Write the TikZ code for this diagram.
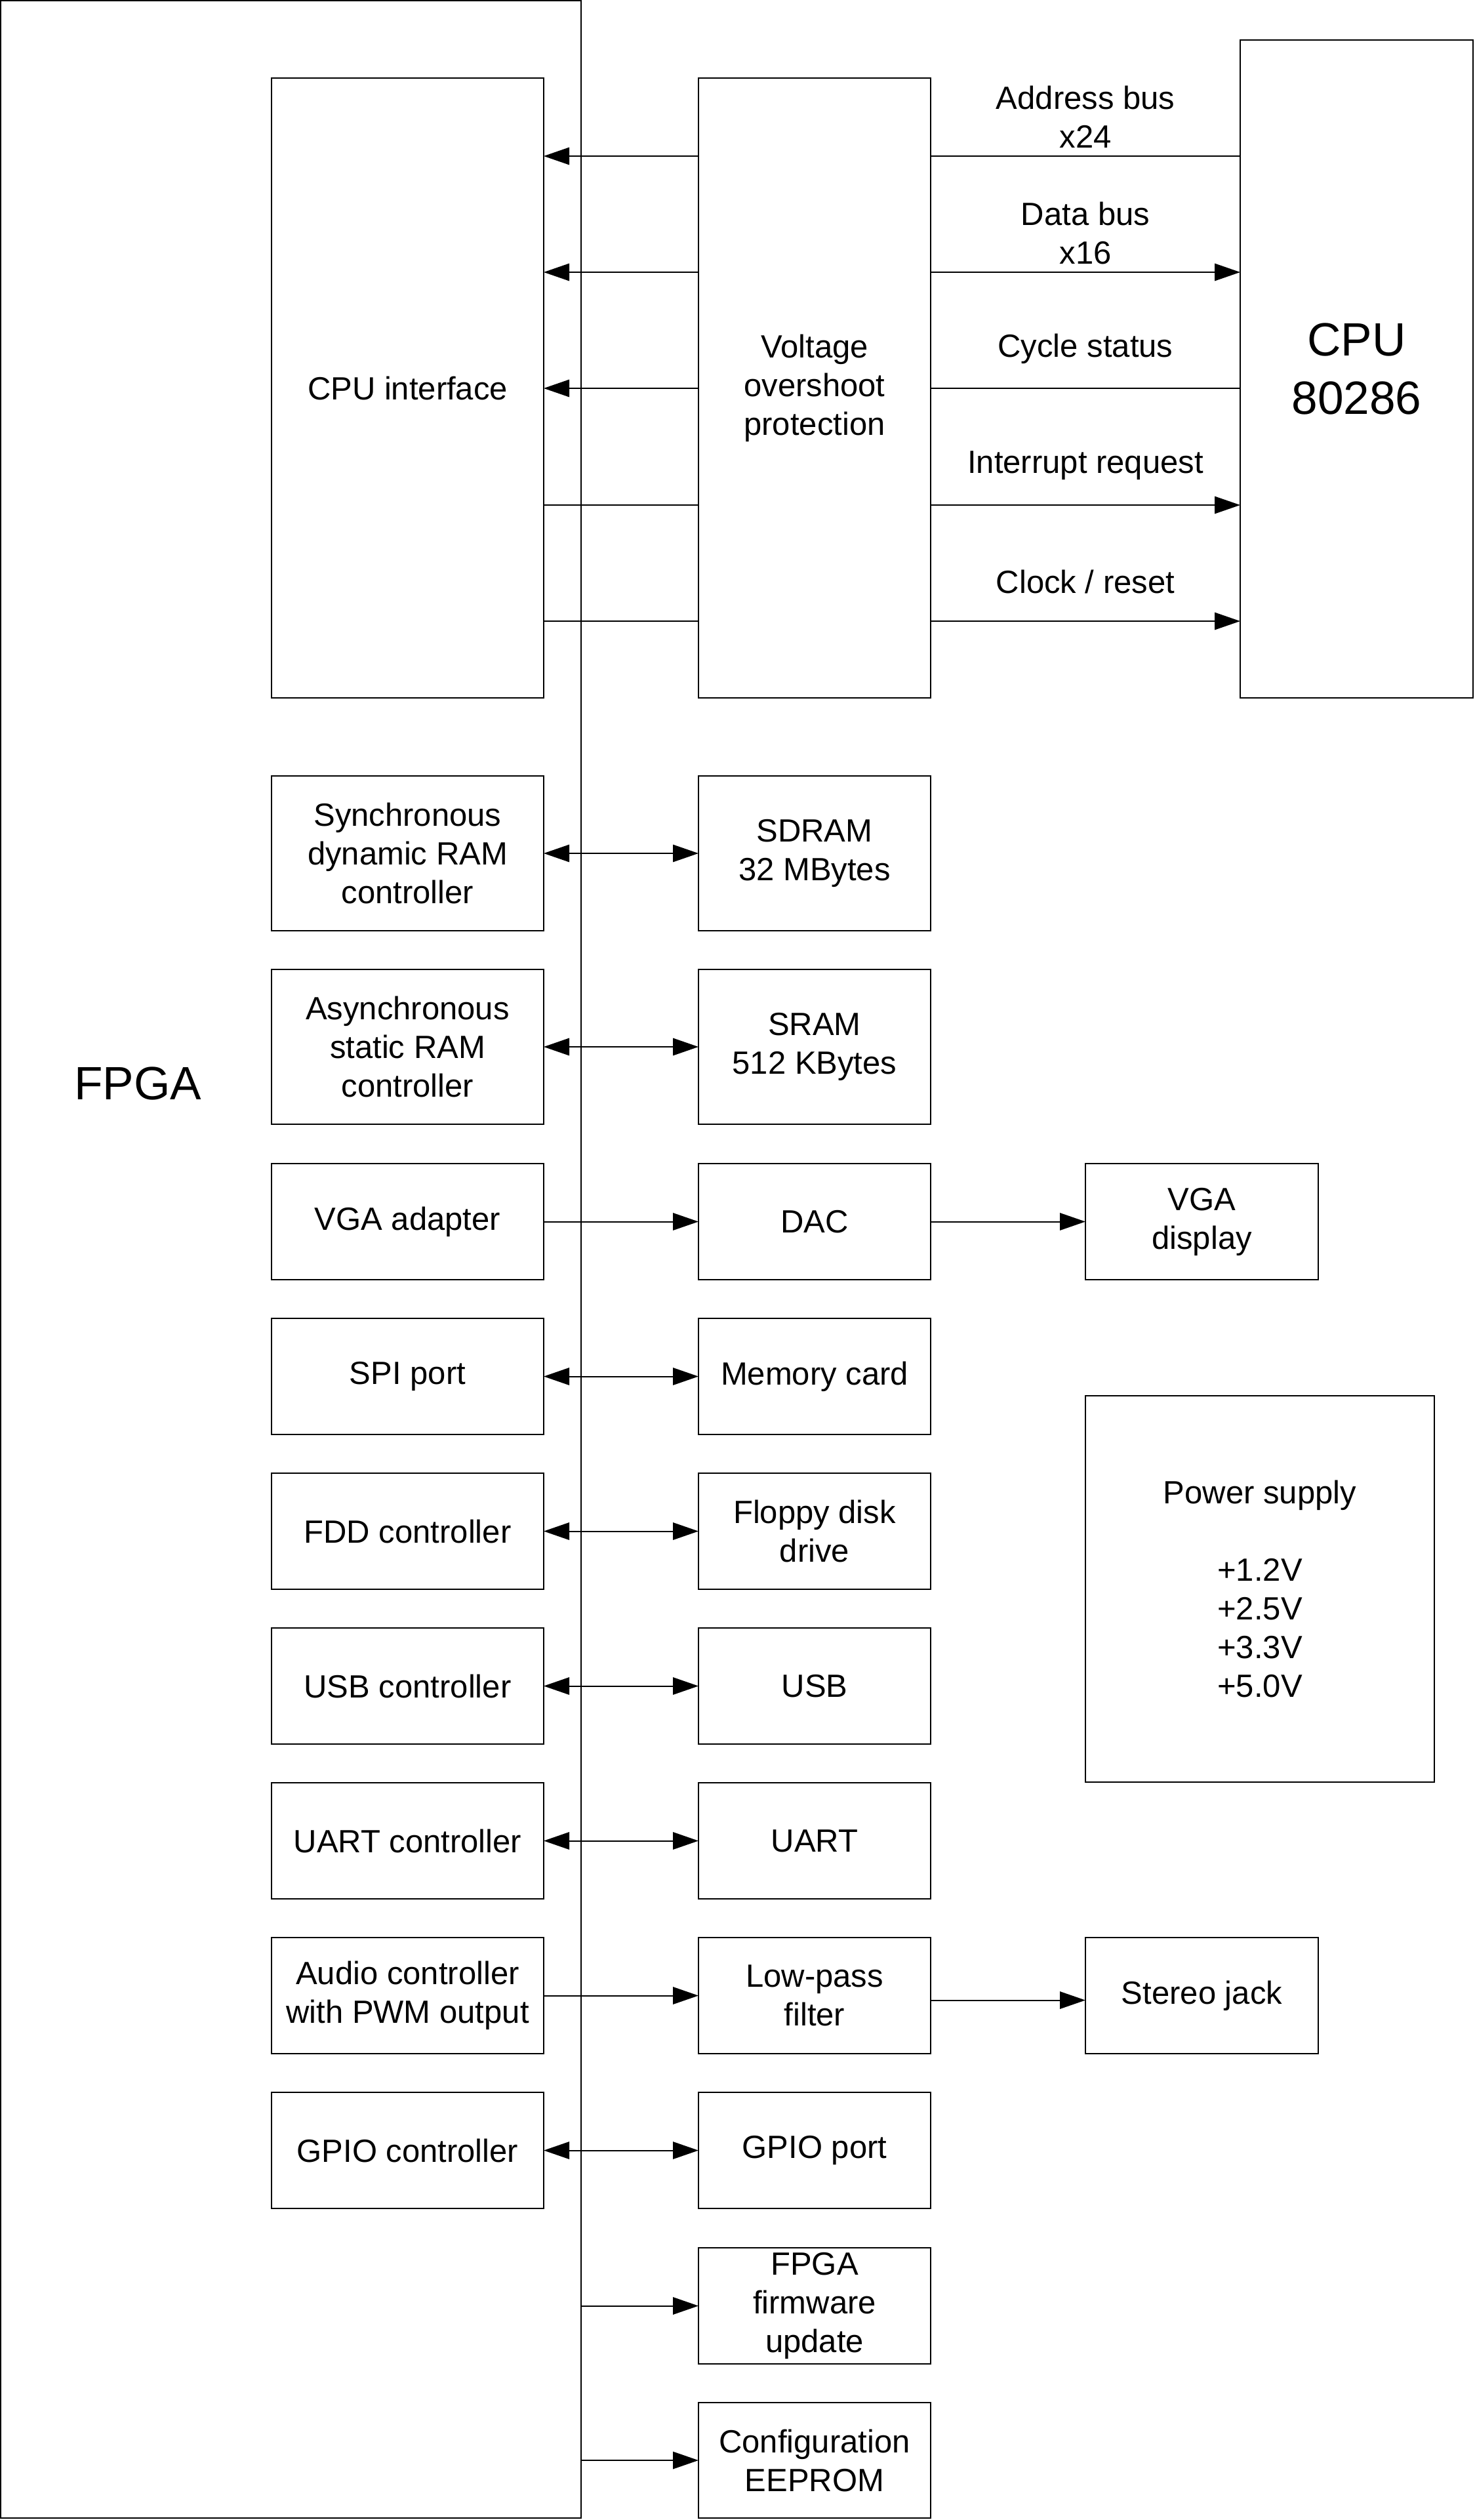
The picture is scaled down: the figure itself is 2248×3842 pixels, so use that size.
\documentclass[tikz,border=0pt]{standalone}
\usepackage{fontspec}
\setmainfont{Liberation Sans}
\usetikzlibrary{arrows.meta,calc}
\tikzset{
  blk/.style={draw, line width=0.5pt, inner sep=0pt, outer sep=0pt, align=center,
    font=\fontsize{12.25}{14.75}\selectfont, fill=white},
  lbl/.style={inner sep=0pt, align=center, font=\fontsize{12.25}{14.75}\selectfont},
  bigtxt/.style={font=\fontsize{17.8}{22.25}\selectfont},
  vtri/.tip={Triangle[length=9.75pt,width=6.6pt]},
  arnone/.style={line width=0.5pt},
  arone/.style={line width=0.5pt, -vtri},
  artwo/.style={line width=0.5pt, vtri-vtri},
}
\newcommand{\mkbox}[7][]{\node[blk,#1, minimum width={(#5-#3)*0.25pt}, minimum height={(#6-#4)*0.25pt}] (#2) at ({(#3+#5)/2},{(#4+#6)/2}) {#7};}
\begin{document}
\begin{tikzpicture}[x=0.25pt, y=-0.25pt]
\useasboundingbox (0,0) rectangle (2248,3842);
% FPGA
\mkbox[fill=none]{fpga}{1}{1}{886}{3839}{}
\node[lbl, bigtxt] (fpgalbl) at (210,1652) {FPGA};
% top section
\mkbox{ci}{414}{119}{829}{1064}{CPU interface}
\mkbox{vop}{1065}{119}{1419}{1064}{Voltage\\overshoot\\protection}
\mkbox[bigtxt]{cpu}{1891}{61}{2246}{1064}{CPU\\80286}
% top connectors
\draw[arone] (vop.west |- 0,238) -- (ci.east |- 0,238);
\draw[arnone] (vop.east |- 0,238) -- (cpu.west |- 0,238);
\draw[arone] (vop.west |- 0,415) -- (ci.east |- 0,415);
\draw[arone] (vop.east |- 0,415) -- (cpu.west |- 0,415);
\draw[arone] (vop.west |- 0,592) -- (ci.east |- 0,592);
\draw[arnone] (vop.east |- 0,592) -- (cpu.west |- 0,592);
\draw[arnone] (vop.west |- 0,770) -- (ci.east |- 0,770);
\draw[arone] (vop.east |- 0,770) -- (cpu.west |- 0,770);
\draw[arnone] (vop.west |- 0,947) -- (ci.east |- 0,947);
\draw[arone] (vop.east |- 0,947) -- (cpu.west |- 0,947);
\node[lbl] (lab1) at (1655,178) {Address bus\\x24};
\node[lbl] (lab2) at (1655,355) {Data bus\\x16};
\node[lbl] (lab3) at (1655,532) {Cycle status};
\node[lbl] (lab4) at (1655,710) {Interrupt request};
\node[lbl] (lab5) at (1655,887) {Clock / reset};
% memory rows
\mkbox{sdc}{414}{1183}{829}{1419}{Synchronous\\dynamic RAM\\controller}
\mkbox{sdram}{1065}{1183}{1419}{1419}{SDRAM\\32 MBytes}
\mkbox{src}{414}{1478}{829}{1714}{Asynchronous\\static RAM\\controller}
\mkbox{sram}{1065}{1478}{1419}{1714}{SRAM\\512 KBytes}
% rows of 177
\mkbox{vgaa}{414}{1774}{829}{1951}{VGA adapter}
\mkbox{dac}{1065}{1774}{1419}{1951}{DAC}
\mkbox{vgad}{1655}{1774}{2010}{1951}{VGA\\display}
\mkbox{spi}{414}{2010}{829}{2187}{SPI port}
\mkbox{memc}{1065}{2010}{1419}{2187}{Memory card}
\mkbox{fdd}{414}{2246}{829}{2423}{FDD controller}
\mkbox{flop}{1065}{2246}{1419}{2423}{Floppy disk\\drive}
\mkbox{usbc}{414}{2482}{829}{2659}{USB controller}
\mkbox{usb}{1065}{2482}{1419}{2659}{USB}
\mkbox{uartc}{414}{2718}{829}{2895}{UART controller}
\mkbox{uart}{1065}{2718}{1419}{2895}{UART}
\mkbox{aud}{414}{2954}{829}{3131}{Audio controller\\with PWM output}
\mkbox{lpf}{1065}{2954}{1419}{3131}{Low-pass\\filter}
\mkbox{jack}{1655}{2954}{2010}{3131}{Stereo jack}
\mkbox{gpioc}{414}{3190}{829}{3367}{GPIO controller}
\mkbox{gpio}{1065}{3190}{1419}{3367}{GPIO port}
\mkbox{fw}{1065}{3427}{1419}{3604}{FPGA\\firmware\\update}
\mkbox{eep}{1065}{3663}{1419}{3839}{Configuration\\EEPROM}
\mkbox{psu}{1655}{2128}{2187}{2717}{Power supply\\\mbox{}\\+1.2V\\+2.5V\\+3.3V\\+5.0V}
% lower connectors
\draw[artwo] (sdc.east) -- (sdram.west);
\draw[artwo] (src.east) -- (sram.west);
\draw[arone] (vgaa.east) -- (dac.west);
\draw[arone] (dac.east) -- (vgad.west);
\draw[artwo] (spi.east) -- (memc.west);
\draw[artwo] (fdd.east) -- (flop.west);
\draw[artwo] (usbc.east) -- (usb.west);
\draw[artwo] (uartc.east) -- (uart.west);
\draw[arone] (aud.east) -- (lpf.west);
\draw[arone] ([yshift=-1.75pt]lpf.east) -- ([yshift=-1.75pt]jack.west);
\draw[artwo] (gpioc.east) -- (gpio.west);
\draw[arone] (fpga.east |- fw.west) -- (fw.west);
\draw[arone] (fpga.east |- eep.west) -- (eep.west);
\end{tikzpicture}
\end{document}
